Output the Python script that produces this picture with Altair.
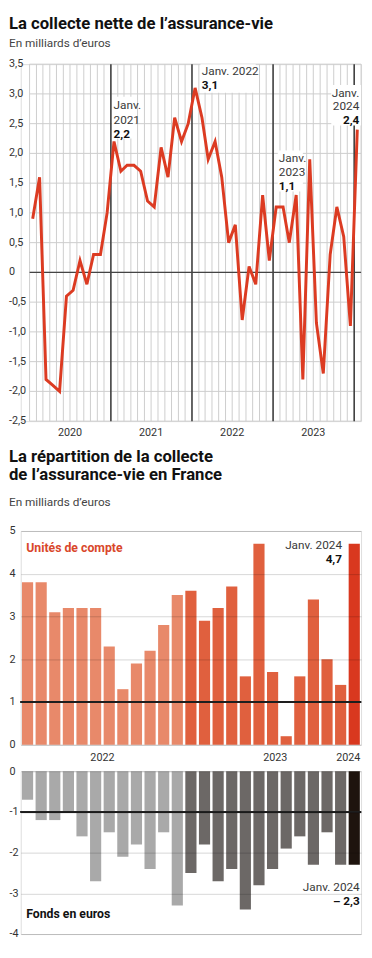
import altair as alt
import pandas as pd

FONT = "Roboto"

# ---------------- Top chart: collecte nette (monthly, Jan 2020 - Jan 2024)
line_months = [f"{y}-{m:02d}" for y in range(2020, 2024) for m in range(1, 13)] + ["2024-01"]
collecte = [0.9, 1.6, -1.8, -1.9, -2.0, -0.4, -0.3, 0.2, -0.2, 0.3, 0.3, 1.0,
            2.2, 1.7, 1.8, 1.8, 1.7, 1.2, 1.1, 2.1, 1.6, 2.6, 2.2, 2.5,
            3.1, 2.6, 1.9, 2.2, 1.6, 0.5, 0.8, -0.8, 0.1, -0.2, 1.3, 0.2,
            1.1, 1.1, 0.5, 1.3, -1.8, 1.9, -0.85, -1.7, 0.3, 1.1, 0.6, -0.9,
            2.4]
y_ticks_top = [3.5, 3.0, 2.5, 2.0, 1.5, 1.0, 0.5, 0.0, -0.5, -1.0, -1.5, -2.0, -2.5]
y_tick_labels_top = ["3,5", "3,0", "2,5", "2,0", "1,5", "1,0", "0,5", "0", "-0,5", "-1,0", "-1,5", "-2,0", "-2,5"]
year_starts = ["2021-01-01", "2022-01-01", "2023-01-01", "2024-01-01"]
year_labels_top = ["2020", "2021", "2022", "2023"]
year_label_dates = ["2020-07-01", "2021-07-01", "2022-07-01", "2023-07-01"]

# annotations (text, date, value, bold, align)
ann_text = ["Janv.", "2021", "2,2", "Janv. 2022", "3,1", "Janv.", "2023", "1,1", "Janv.", "2024", "2,4"]
ann_date = ["2021-01-13", "2021-01-13", "2021-01-13", "2022-02-14", "2022-02-14",
            "2023-01-27", "2023-01-27", "2023-01-27", "2024-01-24", "2024-01-24", "2024-01-24"]
ann_val = [2.81, 2.56, 2.33, 3.38, 3.15, 1.92, 1.68, 1.45, 3.02, 2.79, 2.56]
ann_bold = [False, False, True, False, True, False, False, True, False, False, True]
ann_align = ["left"] * 8 + ["right"] * 3
# white boxes behind annotations
box_x = ["2021-01-06", "2022-02-08", "2023-01-22", "2023-09-20"]
box_x2 = ["2021-04-18", "2022-10-15", "2023-05-15", "2024-02-01"]
box_y = [2.25, 3.02, 1.36, 2.47]
box_y2 = [2.95, 3.5, 2.05, 3.15]

line_df = pd.DataFrame({"date": pd.to_datetime(line_months) + pd.Timedelta(days=14), "v": collecte})
grid_df = pd.DataFrame({"date": pd.date_range("2020-01-01", "2024-02-01", freq="MS")})
ystart_df = pd.DataFrame({"date": pd.to_datetime(year_starts)})
ylab_df = pd.DataFrame({"date": pd.to_datetime(year_label_dates), "t": year_labels_top})
ytick_df = pd.DataFrame({"v": y_ticks_top, "t": y_tick_labels_top})
ann_df = pd.DataFrame({"date": pd.to_datetime(ann_date), "v": ann_val, "t": ann_text,
                       "bold": ann_bold, "align": ann_align})
box_df = pd.DataFrame({"x": pd.to_datetime(box_x), "x2": pd.to_datetime(box_x2), "y": box_y, "y2": box_y2})

TOP_W, TOP_H = 347, 364
T0 = alt.DateTime(year=2020, month=1, date=1)
T1 = alt.DateTime(year=2024, month=2, date=1)
xs = alt.Scale(domain=[T0, T1], range=[9, TOP_W])
ys = alt.Scale(domain=[-2.5, 3.5], nice=False, zero=False)

vgrid = alt.Chart(grid_df).mark_rule(color="#cdcdcd", strokeWidth=1).encode(
    x=alt.X("date:T", scale=xs, axis=None))
hgrid = alt.Chart(ytick_df).mark_rule(color="#cdcdcd", strokeWidth=1).encode(
    y=alt.Y("v:Q", scale=ys, axis=None), x=alt.datum(T0), x2=alt.datum(T1))
ytxt = alt.Chart(ytick_df).mark_text(font=FONT, fontSize=11, color="#333", align="left",
                                     baseline="middle").encode(y="v:Q", x=alt.value(-12), text="t:N")
yrules = alt.Chart(ystart_df).mark_rule(color="#2a2a2a", strokeWidth=1.4).encode(x="date:T")
zero = alt.Chart(ytick_df).transform_filter("datum.v == 0").mark_rule(color="#444", strokeWidth=1.3).encode(
    y="v:Q", x=alt.datum(T0), x2=alt.datum(T1))
boxes = alt.Chart(box_df).mark_rect(color="white").encode(x="x:T", x2="x2:T", y="y:Q", y2="y2:Q")
line = alt.Chart(line_df).mark_line(color="#dc3b22", strokeWidth=3).encode(x="date:T", y="v:Q")


def ann_layer(df, bold, align):
    return alt.Chart(df).transform_filter(
        f"datum.bold == {str(bold).lower()} && datum.align == '{align}'"
    ).mark_text(font=FONT, fontSize=12, fontWeight="bold" if bold else "normal",
                color="#111" if bold else "#3a3a3a", align=align, baseline="middle").encode(
        x="date:T", y="v:Q", text="t:N")


ann_layers = [ann_layer(ann_df, b, a) for b in (False, True) for a in ("left", "right")]
ylabels = alt.Chart(ylab_df).mark_text(font=FONT, fontSize=11, color="#333", baseline="middle").encode(
    x="date:T", y=alt.value(TOP_H + 12), text="t:N")

top = alt.layer(vgrid, hgrid, yrules, zero, boxes, line, *ann_layers, ylabels, ytxt).properties(
    width=TOP_W, height=TOP_H,
    title=alt.TitleParams(text="La collecte nette de l\u2019assurance-vie", subtitle="En milliards d\u2019euros",
                          anchor="start", font=FONT, fontSize=17, fontWeight="bold", color="#111",
                          subtitleFont=FONT, subtitleFontSize=12, subtitleColor="#444",
                          subtitlePadding=6, offset=8))

# ---------------- Bottom charts: répartition (Jan 2022 - Jan 2024)
bar_idx = list(range(25))
unites_compte = [3.8, 3.8, 3.1, 3.2, 3.2, 3.2, 2.3, 1.3, 1.9, 2.2, 2.8, 3.5,
                 3.6, 2.9, 3.2, 3.7, 1.6, 4.7, 1.7, 0.2, 1.6, 3.4, 2.0, 1.4, 4.7]
fonds_euros = [-0.7, -1.2, -1.2, -1.0, -1.6, -2.7, -1.5, -2.1, -1.8, -2.4, -1.5, -3.3,
               -2.5, -1.8, -2.7, -2.4, -3.4, -2.8, -2.4, -1.9, -1.6, -2.3, -1.5, -2.3, -2.3]
bar_year = ["2022"] * 12 + ["2023"] * 12 + ["2024"]
uc_colors = ["#e8896a", "#e0603e", "#d9381f"]
fe_colors = ["#a9a9a9", "#6c6866", "#1e140e"]
bar_year_labels = ["2022", "2023", "2024"]
bar_year_pos = [5.5, 18.2, 24.45]
bar_year_align = ["center", "center", "right"]

bar_df = pd.DataFrame({"idx": bar_idx, "uc": unites_compte, "fe": fonds_euros, "annee": bar_year})
byl_df = pd.DataFrame({"x": bar_year_pos, "t": bar_year_labels, "align": bar_year_align})

BW = 347
UC_H, FE_H = 218, 166
bxs = alt.Scale(domain=[-0.5, 24.5], nice=False, zero=False)
lbl_int = "replace(format(datum.value, 'd'), '\u2212', '-')"


def yaxis(vals):
    return alt.Axis(values=vals, labelExpr=lbl_int, grid=True, gridColor="#000", gridOpacity=0.16,
                    zindex=1, domain=False, ticks=False, labelAlign="left", labelPadding=12,
                    labelOverlap=False, labelFont=FONT, labelFontSize=11, labelColor="#333", title=None)


uc_bars = alt.Chart(bar_df).transform_calculate(
    x0="datum.idx - 0.41", x1="datum.idx + 0.41").mark_rect().encode(
    x=alt.X("x0:Q", scale=bxs, axis=None), x2="x1:Q",
    y=alt.Y("uc:Q", scale=alt.Scale(domain=[0, 5], nice=False), axis=yaxis([0, 1, 2, 3, 4, 5])),
    y2=alt.datum(0),
    color=alt.Color("annee:N", scale=alt.Scale(domain=bar_year_labels, range=uc_colors), legend=None))
uc_one = alt.Chart(bar_df).mark_rule(color="#222", opacity=0.55, strokeWidth=1).encode(y=alt.datum(1))

uc_txt_df = pd.DataFrame({"x": [-0.1, 23.1, 23.1], "y": [4.6, 4.68, 4.34],
                          "t": ["Unit\u00e9s de compte", "Janv. 2024", "4,7"]})
uc_t1 = alt.Chart(uc_txt_df.iloc[[0]]).mark_text(font=FONT, fontSize=12.5, fontWeight="bold", color="#d9472b",
                                                 align="left", baseline="middle").encode(x="x:Q", y="y:Q", text="t:N")
uc_t2 = alt.Chart(uc_txt_df.iloc[[1]]).mark_text(font=FONT, fontSize=12, color="#3a3a3a",
                                                 align="right", baseline="middle").encode(x="x:Q", y="y:Q", text="t:N")
uc_t3 = alt.Chart(uc_txt_df.iloc[[2]]).mark_text(font=FONT, fontSize=12, fontWeight="bold", color="#111",
                                                 align="right", baseline="middle").encode(x="x:Q", y="y:Q", text="t:N")

uc_chart = alt.layer(uc_bars, uc_one, uc_t1, uc_t2, uc_t3).properties(
    width=BW, height=UC_H,
    title=alt.TitleParams(text=["La r\u00e9partition de la collecte", "de l\u2019assurance-vie en France"],
                          subtitle="En milliards d\u2019euros", anchor="start", font=FONT, fontSize=17,
                          fontWeight="bold", color="#111", lineHeight=18, subtitleFont=FONT,
                          subtitleFontSize=12, subtitleColor="#444", subtitlePadding=14, offset=16))

fe_bars = alt.Chart(bar_df).transform_calculate(
    x0="datum.idx - 0.41", x1="datum.idx + 0.41").mark_rect().encode(
    x=alt.X("x0:Q", scale=bxs, axis=None), x2="x1:Q",
    y=alt.Y("fe:Q", scale=alt.Scale(domain=[-4, 0], nice=False), axis=yaxis([0, -1, -2, -3, -4])),
    y2=alt.datum(0),
    color=alt.Color("annee:N", scale=alt.Scale(domain=bar_year_labels, range=fe_colors), legend=None))
fe_one = alt.Chart(bar_df).mark_rule(color="#222", opacity=0.55, strokeWidth=1).encode(y=alt.datum(-1))

fe_txt_df = pd.DataFrame({"x": [-0.1, 24.4, 24.4], "y": [-3.5, -2.84, -3.19],
                          "t": ["Fonds en euros", "Janv. 2024", "\u2013 2,3"]})
fe_t1 = alt.Chart(fe_txt_df.iloc[[0]]).mark_text(font=FONT, fontSize=12.5, fontWeight="bold", color="#111",
                                                 align="left", baseline="middle").encode(x="x:Q", y="y:Q", text="t:N")
fe_t2 = alt.Chart(fe_txt_df.iloc[[1]]).mark_text(font=FONT, fontSize=12, color="#3a3a3a",
                                                 align="right", baseline="middle").encode(x="x:Q", y="y:Q", text="t:N")
fe_t3 = alt.Chart(fe_txt_df.iloc[[2]]).mark_text(font=FONT, fontSize=12, fontWeight="bold", color="#111",
                                                 align="right", baseline="middle").encode(x="x:Q", y="y:Q", text="t:N")


def byl_layer(align):
    return alt.Chart(byl_df).transform_filter(f"datum.align == '{align}'").mark_text(
        font=FONT, fontSize=11, color="#333", align=align, baseline="middle").encode(
        x="x:Q", y=alt.value(-13), text="t:N")


fe_chart = alt.layer(fe_bars, fe_one, fe_t1, fe_t2, fe_t3, byl_layer("center"), byl_layer("right")).properties(
    width=BW, height=FE_H)

bottom = alt.vconcat(uc_chart, fe_chart, spacing=1).resolve_scale(color="independent", y="independent")

chart = alt.vconcat(top, bottom, spacing=9).resolve_scale(
    color="independent", y="independent", x="independent").properties(
    padding={"left": 0, "top": -3, "right": 0, "bottom": 0}
).configure_view(stroke=None).configure(background="white")

chart.save("out.html", embed_options={"renderer": "svg", "actions": False})
